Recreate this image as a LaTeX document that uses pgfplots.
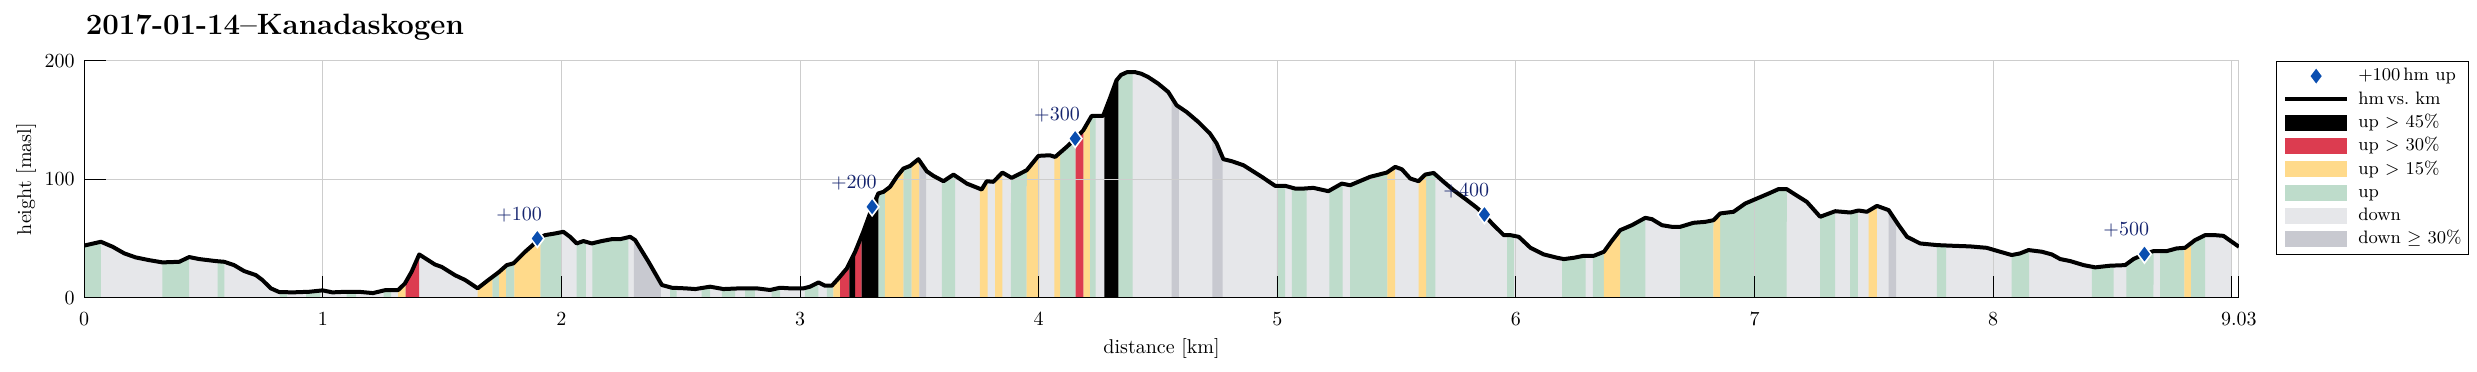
\documentclass[border=0pt]{standalone}
\usepackage{pgfplots}
\pgfplotsset{compat=1.18}
\usepackage{pgfplotstable}
\usepgfplotslibrary{fillbetween}

\definecolor{cDown}{RGB}{230,231,234}
\definecolor{cDownS}{RGB}{200,201,208}
\definecolor{cUp}{RGB}{190,220,203}
\definecolor{cUpY}{RGB}{255,218,139}
\definecolor{cUpR}{RGB}{220,60,80}
\definecolor{cUpB}{RGB}{0,0,0}
\definecolor{cDia}{RGB}{10,78,176}
\definecolor{cLab}{RGB}{20,35,110}
\definecolor{cGrid}{RGB}{205,205,205}

\pgfplotsset{
  layers/mylayers/.define layer set={axis background,axis grid,pre main,main,axis ticks,axis lines,axis tick labels,axis descriptions,axis foreground}{},
  boxleg/.style={legend image code/.code={\fill[##1] (0pt,-4pt) rectangle (31pt,4pt);}},
  lineleg/.style={legend image code/.code={\draw[##1] (0pt,0pt) -- (31pt,0pt);}},
  diamleg/.style={legend image code/.code={\draw[##1] plot coordinates {(15.5pt,0pt)};}},
}

\pgfplotstableread{
x y
0.000 44.0
0.070 47.2
0.119 43.0
0.168 37.4
0.216 34.0
0.272 31.7
0.328 29.8
0.398 30.3
0.440 34.3
0.482 32.6
0.552 30.9
0.587 30.3
0.628 27.5
0.670 22.5
0.719 19.1
0.747 14.9
0.782 7.9
0.817 4.8
0.873 4.5
0.943 5.0
0.999 6.2
1.040 4.5
1.096 5.0
1.150 5.0
1.210 3.9
1.264 6.5
1.316 6.5
1.344 12.0
1.372 21.9
1.404 36.5
1.470 28.0
1.498 26.0
1.554 19.0
1.596 15.0
1.649 7.9
1.694 15.0
1.736 21.3
1.771 27.5
1.799 29.0
1.848 38.8
1.883 45.0
1.899 49.5
1.931 52.8
1.973 54.2
2.008 55.6
2.036 51.4
2.064 45.8
2.092 47.8
2.127 45.8
2.169 47.8
2.211 49.4
2.246 49.4
2.288 51.4
2.309 48.6
2.365 30.3
2.421 10.7
2.463 8.4
2.519 7.9
2.561 7.3
2.623 9.3
2.679 7.3
2.749 7.9
2.819 7.9
2.874 6.5
2.916 8.4
2.958 7.9
3.014 7.9
3.042 9.3
3.077 12.9
3.105 10.1
3.133 10.1
3.161 16.3
3.196 24.7
3.231 38.8
3.265 55.6
3.302 76.0
3.328 88.0
3.349 89.3
3.377 93.5
3.405 102.0
3.433 109.0
3.461 111.2
3.496 116.9
3.531 106.7
3.559 102.8
3.601 98.3
3.643 103.9
3.699 96.3
3.761 91.3
3.782 98.3
3.810 97.8
3.848 105.6
3.887 101.1
3.950 107.6
3.999 119.7
4.047 120.2
4.069 118.8
4.117 127.2
4.153 134.0
4.187 141.3
4.222 153.4
4.270 153.4
4.298 168.0
4.326 183.4
4.345 188.0
4.370 190.3
4.403 190.4
4.430 189.0
4.459 186.2
4.501 180.6
4.543 173.6
4.578 162.4
4.620 156.7
4.669 148.3
4.718 138.5
4.746 130.1
4.774 116.9
4.809 115.2
4.858 111.8
4.935 102.0
4.991 94.4
5.033 94.4
5.075 92.1
5.110 92.1
5.151 92.7
5.214 89.9
5.270 96.3
5.305 94.9
5.389 102.0
5.459 105.6
5.494 110.4
5.522 108.4
5.557 100.6
5.592 98.3
5.620 103.9
5.655 105.3
5.697 97.8
5.739 90.7
5.795 82.3
5.837 75.8
5.868 69.8
5.900 62.6
5.949 52.8
5.977 52.8
6.012 51.4
6.061 42.1
6.117 36.5
6.173 33.7
6.201 32.6
6.243 33.7
6.285 35.4
6.327 35.4
6.369 38.8
6.402 48.0
6.437 57.0
6.486 61.2
6.542 67.4
6.570 66.3
6.612 61.2
6.654 59.8
6.688 59.8
6.744 63.2
6.793 64.0
6.828 65.4
6.856 71.1
6.912 72.5
6.961 79.5
7.010 83.7
7.059 87.9
7.100 91.6
7.135 91.6
7.170 87.1
7.219 80.9
7.275 68.3
7.338 73.0
7.401 71.9
7.436 73.6
7.471 72.5
7.513 77.5
7.562 73.9
7.604 61.2
7.639 51.4
7.674 47.8
7.694 45.8
7.764 44.4
7.834 43.8
7.903 43.3
7.973 42.1
8.029 38.8
8.078 36.0
8.113 37.4
8.148 40.2
8.204 38.8
8.246 36.5
8.281 32.6
8.323 30.9
8.379 27.5
8.428 25.6
8.490 27.0
8.553 27.5
8.588 32.6
8.634 37.0
8.672 39.3
8.727 39.3
8.769 41.6
8.804 42.1
8.846 48.6
8.888 52.8
8.930 52.8
8.965 52.2
9.000 47.2
9.030 43.0
}\profile

\pgfplotstableread{
x y lab
1.899 50.0 +100
3.302 76.7 +200
4.153 134.3 +300
5.868 70.2 +400
8.634 36.8 +500
}\hmmarks

\newcommand{\band}[3]{\addplot[fill=#1, draw=none, forget plot] fill between[of=prof and base, soft clip={domain=#2:#3}];}

\begin{document}
\begin{tikzpicture}
\begin{axis}[
  set layers=mylayers,
  scale only axis, width=1077.3pt, height=118.5pt,
  xmin=0, xmax=9.03, ymin=0, ymax=200,
  axis x line=bottom, axis y line=left,
  axis line style={-, black, line width=0.5pt},
  xtick={0,1,2,3,4,5,6,7,8,9,9.03},
  xticklabels={0,1,2,3,4,5,6,7,8,,9.03},
  ytick={0,100,200},
  tick align=inside, major tick length=10.7pt,
  tick style={black, line width=0.5pt},
  grid=major, major grid style={cGrid, line width=0.5pt},
  xticklabel style={yshift=-3.7pt},
  yticklabel style={xshift=-1.2pt},
  xlabel={distance [km]},
  xlabel style={at={(axis description cs:0.5,0)}, anchor=base, yshift=-27.8pt},
  ylabel={height [masl]},
  ylabel style={at={(axis description cs:-0.0269,0.5)}, anchor=center},
  title={2017-01-14--Kanadaskogen},
  every axis title/.style={at={(axis description cs:0,1)}, anchor=base west, inner sep=0pt, xshift=0.6pt, yshift=13.3pt, font=\bfseries\fontsize{14.7}{17}\selectfont},
  legend style={at={(1,1)}, anchor=north west, xshift=18.5pt,
    draw=black, line width=0.5pt, fill=white,
    font=\fontsize{9}{11}\selectfont,
    inner xsep=3.35pt, inner ysep=2.8pt,
    row sep=2.35pt, column sep=4.6pt,
    nodes={inner sep=0pt, text height=7pt, text depth=2.3pt}},
  legend cell align=left,
]
\addlegendimage{only marks, mark=diamond*, mark size=4.5pt, mark options={fill=cDia, draw=white, line width=0.8pt}, diamleg}
\addlegendentry{+100\,hm up}
\addlegendimage{black, line width=2pt, lineleg}
\addlegendentry{hm\,vs.\ km}
\addlegendimage{fill=cUpB, draw=none, boxleg}
\addlegendentry{up $>$ 45\%}
\addlegendimage{fill=cUpR, draw=none, boxleg}
\addlegendentry{up $>$ 30\%}
\addlegendimage{fill=cUpY, draw=none, boxleg}
\addlegendentry{up $>$ 15\%}
\addlegendimage{fill=cUp, draw=none, boxleg}
\addlegendentry{up}
\addlegendimage{fill=cDown, draw=none, boxleg}
\addlegendentry{down}
\addlegendimage{fill=cDownS, draw=none, boxleg}
\addlegendentry{down $\geq$ 30\%}

% labels of the +100 hm marks
\addplot[draw=none, mark=none, forget plot, nodes near coords, point meta=explicit symbolic,
  nodes near coords style={anchor=base east, inner sep=0pt, xshift=2.5pt, yshift=9.2pt, text=cLab, font=\fontsize{10}{12}\selectfont}]
  table[x=x, y=y, meta=lab]{\hmmarks};

% profile line
\addplot[name path=prof, black, line width=2pt, line join=round, forget plot] table[x=x, y=y]{\profile};
\addplot[name path=base, draw=none, forget plot] coordinates {(0,0) (9.03,0)};

% base fill (down)
\band{cDown}{0}{9.0}
% up
\band{cUp}{0}{0.070}
\band{cUp}{0.328}{0.440}
\band{cUp}{0.559}{0.587}
\band{cUp}{0.820}{0.850}
\band{cUp}{0.930}{0.990}
\band{cUp}{1.100}{1.140}
\band{cUp}{1.255}{1.286}
\band{cUp}{1.711}{1.739}
\band{cUp}{1.767}{1.803}
\band{cUp}{1.912}{1.998}
\band{cUp}{2.064}{2.102}
\band{cUp}{2.130}{2.281}
\band{cUp}{2.455}{2.483}
\band{cUp}{2.588}{2.623}
\band{cUp}{2.672}{2.728}
\band{cUp}{2.770}{2.811}
\band{cUp}{2.881}{2.916}
\band{cUp}{3.020}{3.077}
\band{cUp}{3.112}{3.140}
\band{cUp}{3.328}{3.356}
\band{cUp}{3.433}{3.468}
\band{cUp}{3.594}{3.650}
\band{cUp}{3.884}{3.950}
\band{cUp}{4.090}{4.155}
\band{cUp}{4.215}{4.239}
\band{cUp}{4.334}{4.394}
\band{cUp}{4.998}{5.033}
\band{cUp}{5.061}{5.123}
\band{cUp}{5.218}{5.274}
\band{cUp}{5.305}{5.461}
\band{cUp}{5.624}{5.662}
\band{cUp}{5.963}{5.991}
\band{cUp}{6.194}{6.292}
\band{cUp}{6.323}{6.369}
\band{cUp}{6.437}{6.542}
\band{cUp}{6.688}{6.828}
\band{cUp}{6.856}{7.135}
\band{cUp}{7.275}{7.338}
\band{cUp}{7.401}{7.433}
\band{cUp}{7.764}{7.803}
\band{cUp}{8.077}{8.151}
\band{cUp}{8.414}{8.505}
\band{cUp}{8.558}{8.672}
\band{cUp}{8.700}{8.801}
\band{cUp}{8.829}{8.888}
% up > 15%
\band{cUpY}{1.316}{1.347}
\band{cUpY}{1.649}{1.711}
\band{cUpY}{1.739}{1.767}
\band{cUpY}{1.803}{1.912}
\band{cUpY}{3.140}{3.168}
\band{cUpY}{3.356}{3.433}
\band{cUpY}{3.468}{3.500}
\band{cUpY}{3.754}{3.786}
\band{cUpY}{3.817}{3.848}
\band{cUpY}{3.950}{4.003}
\band{cUpY}{4.066}{4.090}
\band{cUpY}{4.187}{4.215}
\band{cUpY}{5.461}{5.494}
\band{cUpY}{5.592}{5.624}
\band{cUpY}{6.369}{6.437}
\band{cUpY}{6.828}{6.856}
\band{cUpY}{7.478}{7.513}
\band{cUpY}{8.801}{8.829}
% up > 30%
\band{cUpR}{1.347}{1.404}
\band{cUpR}{3.168}{3.207}
\band{cUpR}{3.231}{3.258}
\band{cUpR}{4.155}{4.187}
% up > 45%
\band{cUpB}{3.207}{3.231}
\band{cUpB}{3.258}{3.328}
\band{cUpB}{4.275}{4.334}
% down >= 30%
\band{cDownS}{2.304}{2.417}
\band{cDownS}{3.500}{3.528}
\band{cDownS}{4.557}{4.588}
\band{cDownS}{4.728}{4.771}
\band{cDownS}{7.562}{7.593}

% +100 hm markers
\addplot[only marks, mark=diamond*, mark size=4.5pt, mark options={fill=cDia, draw=white, line width=0.8pt}, forget plot]
  table[x=x, y=y]{\hmmarks};
\end{axis}
\path ([shift={(-42.1pt,-36.65pt)}]current axis.south west) rectangle ([shift={(1196.4pt,148.85pt)}]current axis.south west);
\end{tikzpicture}
\end{document}
